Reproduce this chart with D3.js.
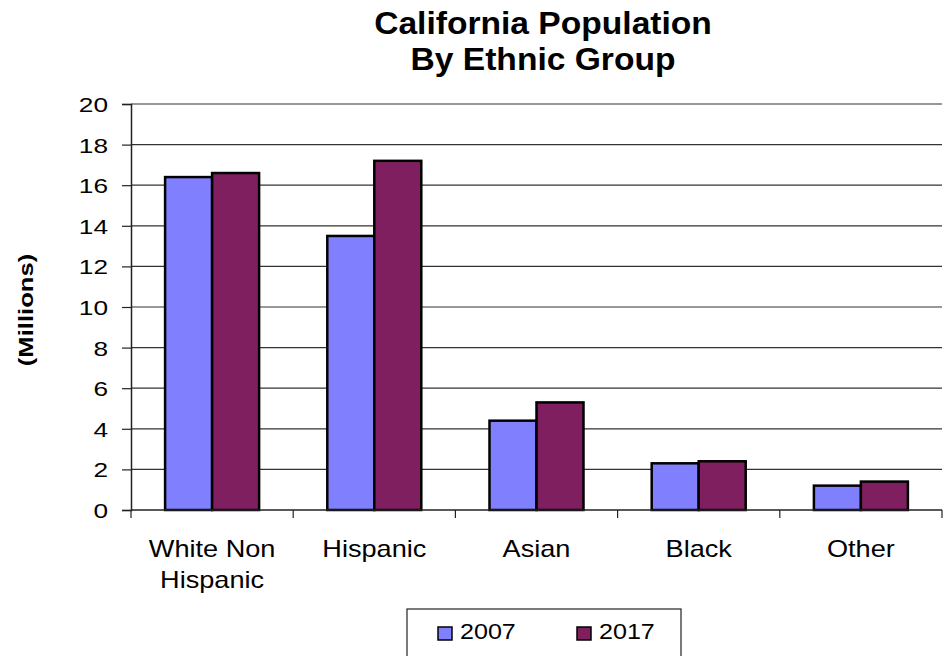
<!DOCTYPE html>
<html>
<head>
<meta charset="utf-8">
<script src="https://cdn.jsdelivr.net/npm/d3@7"></script>
<style>
  body { margin: 0; background: #fff; }
  svg { display: block; font-family: "Liberation Sans", Arial, sans-serif; }
</style>
</head>
<body>
<svg id="chart" width="948" height="656"></svg>
<script>
// California population by ethnic group, millions
const categories = [["White Non", "Hispanic"], ["Hispanic"], ["Asian"], ["Black"], ["Other"]];
const seriesNames = ["2007", "2017"];
const values2007 = [16.4, 13.5, 4.4, 2.3, 1.2];
const values2017 = [16.6, 17.2, 5.3, 2.4, 1.4];
const yTicks = [0, 2, 4, 6, 8, 10, 12, 14, 16, 18, 20];
const colors = ["#8080FF", "#7F1F5F"];

(function draw() {
  const svg = d3.select("#chart");
  const plotLeft = 131, plotRight = 942, plotTop = 104, plotBottom = 510;

  const x = d3.scaleBand().domain(d3.range(categories.length)).range([plotLeft, plotRight]);
  const y = d3.scaleLinear().domain([0, 20]).range([plotBottom, plotTop]);
  const bw = 47;

  // Text with a slightly wide (horizontally stretched) face
  function wideText(parent, tx, ty, str, size, sx, opts = {}) {
    return parent.append("text")
      .attr("transform", `translate(${tx},${ty}) ${opts.rotate ? `rotate(${opts.rotate})` : ""} scale(${sx},1)`)
      .attr("text-anchor", opts.anchor || "middle")
      .attr("font-size", size)
      .attr("font-weight", opts.bold ? "bold" : "normal")
      .attr("fill", "#000")
      .text(str);
  }

  // Title
  wideText(svg, 543, 34, "California Population", 32, 1.05, { bold: true });
  wideText(svg, 543, 70, "By Ethnic Group", 32, 1.05, { bold: true });

  // Gridlines
  svg.append("g").selectAll("line").data(yTicks.filter(d => d > 0)).join("line")
    .attr("x1", plotLeft).attr("x2", plotRight)
    .attr("y1", d => y(d)).attr("y2", d => y(d))
    .attr("stroke", "#333").attr("stroke-width", 1.2);

  // Y axis
  const tickSx = 1.25;
  const yAxis = svg.append("g").attr("transform", `translate(${plotLeft},0)`)
    .call(d3.axisLeft(y).tickValues(yTicks).tickSize(9).tickPadding(0));
  yAxis.select(".domain").attr("stroke", "#222").attr("stroke-width", 1.5);
  yAxis.selectAll(".tick line").attr("stroke", "#222").attr("stroke-width", 1.2);
  yAxis.selectAll(".tick text")
    .attr("font-size", 21).attr("fill", "#000")
    .attr("font-family", "'Liberation Sans', Arial, sans-serif")
    .attr("x", -23 / tickSx).attr("dy", "0.36em")
    .attr("transform", `scale(${tickSx},1)`);

  // Y label
  wideText(svg, 33, 310, "(Millions)", 21, 1.22, { bold: true, rotate: -90 });

  // Bars
  [values2007, values2017].forEach((vals, s) => {
    svg.append("g").selectAll("rect").data(vals).join("rect")
      .attr("x", (d, i) => x(i) + x.bandwidth() / 2 - bw + s * bw)
      .attr("y", d => y(d))
      .attr("width", bw)
      .attr("height", d => y(0) - y(d))
      .attr("fill", colors[s])
      .attr("stroke", "#000").attr("stroke-width", 2.5);
  });

  // X axis
  svg.append("line").attr("x1", plotLeft).attr("x2", plotRight).attr("y1", plotBottom).attr("y2", plotBottom)
    .attr("stroke", "#222").attr("stroke-width", 1.5);
  svg.append("g").selectAll("line").data(d3.range(categories.length + 1)).join("line")
    .attr("x1", i => plotLeft + i * x.bandwidth()).attr("x2", i => plotLeft + i * x.bandwidth())
    .attr("y1", plotBottom).attr("y2", plotBottom + 8)
    .attr("stroke", "#222").attr("stroke-width", 1.2);

  const catG = svg.append("g");
  categories.forEach((lines, i) => {
    const cx = x(i) + x.bandwidth() / 2;
    lines.forEach((t, j) => wideText(catG, cx, 557 + j * 31, t, 23, 1.18));
  });

  // Legend
  const lg = svg.append("g");
  lg.append("rect").attr("x", 407).attr("y", 609).attr("width", 274).attr("height", 60)
    .attr("fill", "#fff").attr("stroke", "#222").attr("stroke-width", 1.2);
  const legendX = [438, 577];
  seriesNames.forEach((n, s) => {
    lg.append("rect").attr("x", legendX[s]).attr("y", 627).attr("width", 14).attr("height", 13)
      .attr("fill", colors[s]).attr("stroke", "#000").attr("stroke-width", 1.5);
    wideText(lg, legendX[s] + 22, 639, n, 22, 1.14, { anchor: "start" });
  });
})();
</script>
</body>
</html>
